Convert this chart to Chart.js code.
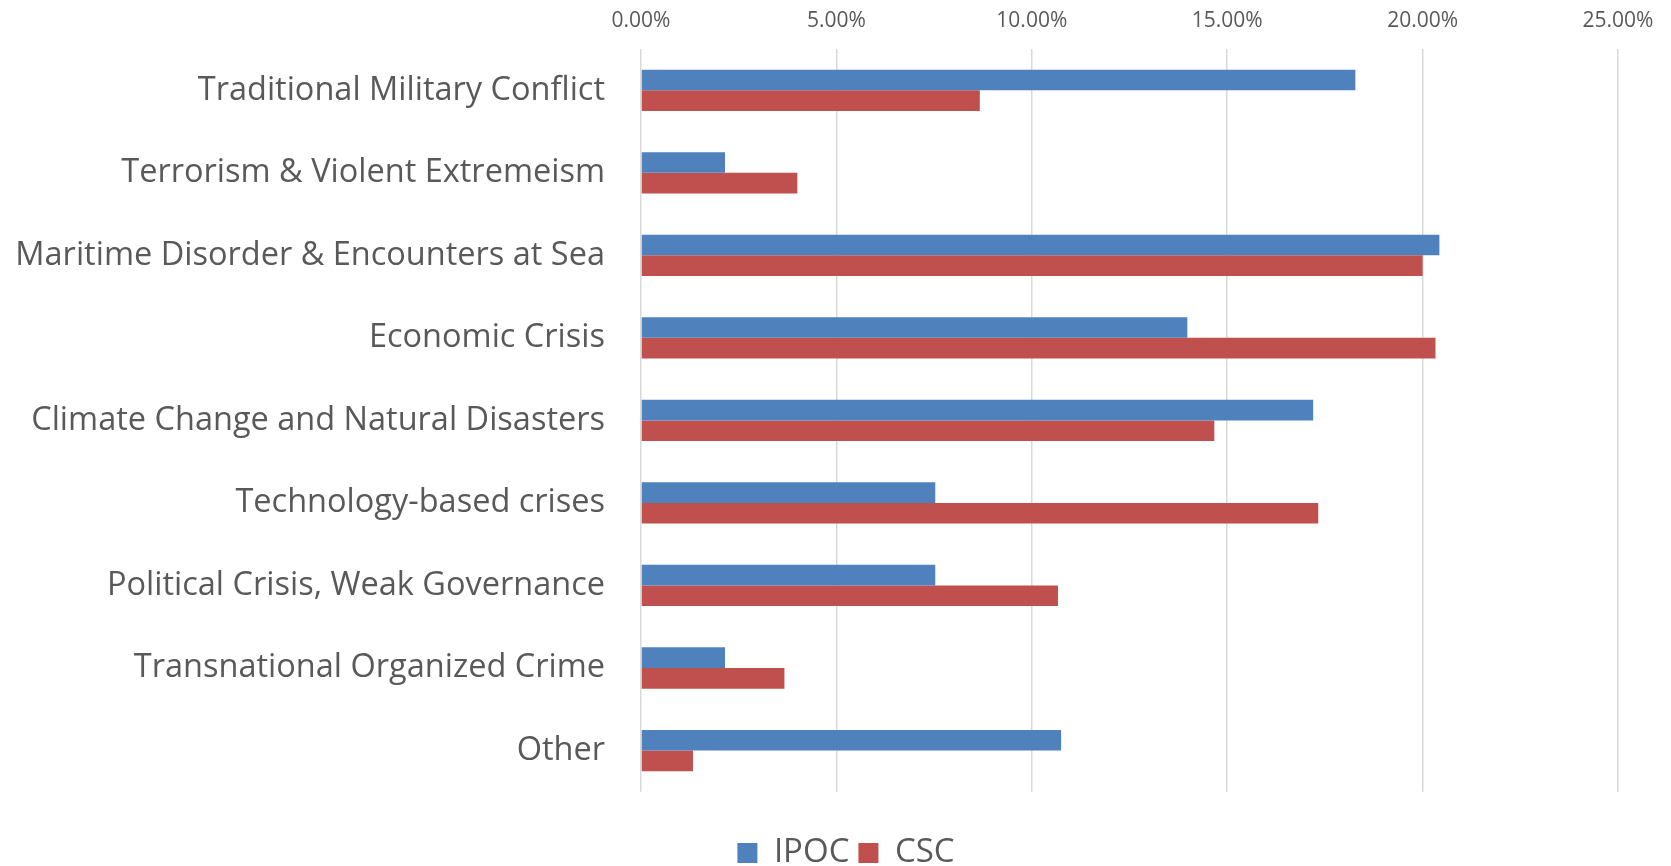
<!DOCTYPE html>
<html>
<head>
<meta charset="utf-8">
<script src="https://cdn.jsdelivr.net/npm/chart.js@4.4.0/dist/chart.umd.min.js"></script>
<style>
  html, body { margin: 0; padding: 0; background: #fff; }
  canvas { display: block; }
</style>
</head>
<body>
<canvas id="chart" width="1671" height="866"></canvas>
<script>
const categories = [
  'Traditional Military Conflict',
  'Terrorism & Violent Extremeism',
  'Maritime Disorder & Encounters at Sea',
  'Economic Crisis',
  'Climate Change and Natural Disasters',
  'Technology-based crises',
  'Political Crisis, Weak Governance',
  'Transnational Organized Crime',
  'Other'
];
const ipoc = [18.28, 2.15, 20.43, 13.98, 17.20, 7.53, 7.53, 2.15, 10.75];
const csc = [8.67, 4.0, 20.0, 20.33, 14.67, 17.33, 10.67, 3.67, 1.33];
const tickValues = [0, 5, 10, 15, 20, 25];

const textColor = '#595959';
const fontFamily = '"Open Sans", "Noto Sans", sans-serif';

// centre the legend under the plot like the original
const legendShift = {
  id: 'legendShift',
  afterLayout(chart) {
    chart.legend.left = 41;
    chart.legend.right = 1651;
  },
};

const createChart = (canvas) => {
  const chart = new Chart(canvas, {
    type: 'bar',
    data: {
      labels: categories,
      datasets: [
        {
          label: 'IPOC',
          data: ipoc,
          backgroundColor: '#4F81BD',
          categoryPercentage: 0.5,
          barPercentage: 1.0,
        },
        {
          label: 'CSC',
          data: csc,
          backgroundColor: '#C0504D',
          categoryPercentage: 0.5,
          barPercentage: 1.0,
        },
      ],
    },
    options: {
      indexAxis: 'y',
      responsive: false,
      animation: false,
      layout: {
        autoPadding: false,
        padding: { top: 0, right: 53, bottom: -13.5, left: 0 },
      },
      scales: {
        x: {
          position: 'top',
          min: 0,
          max: 25,
          afterBuildTicks: (scale) => {
            scale.ticks = tickValues.map((v) => ({ value: v }));
          },
          afterFit: (scale) => { scale.height = 49; },
          ticks: {
            color: textColor,
            font: { family: fontFamily, size: 21 },
            padding: 15,
            callback: (value) => value.toFixed(2) + '%',
          },
          grid: { color: '#d9d9d9', lineWidth: 1.5, drawTicks: false },
          border: { display: false },
        },
        y: {
          afterFit: (scale) => { scale.width = 641; },
          ticks: {
            color: textColor,
            // small lineHeight keeps the label padding from pushing the plot down
            font: { family: fontFamily, size: 32.5, lineHeight: 0.5 },
            padding: 36,
          },
          grid: { display: false, drawTicks: false },
          border: { display: false },
        },
      },
      plugins: {
        legend: {
          position: 'bottom',
          title: {
            display: true,
            text: ' ',
            font: { size: 1 },
            padding: { top: 0, bottom: 34.5 },
          },
          labels: {
            color: textColor,
            font: { family: fontFamily, size: 33 },
            boxWidth: 20,
            boxHeight: 20,
            padding: 9,
          },
        },
        tooltip: { enabled: false },
      },
    },
    plugins: [legendShift],
  });
  return chart;
};

createChart(document.getElementById('chart'));
</script>
</body>
</html>
